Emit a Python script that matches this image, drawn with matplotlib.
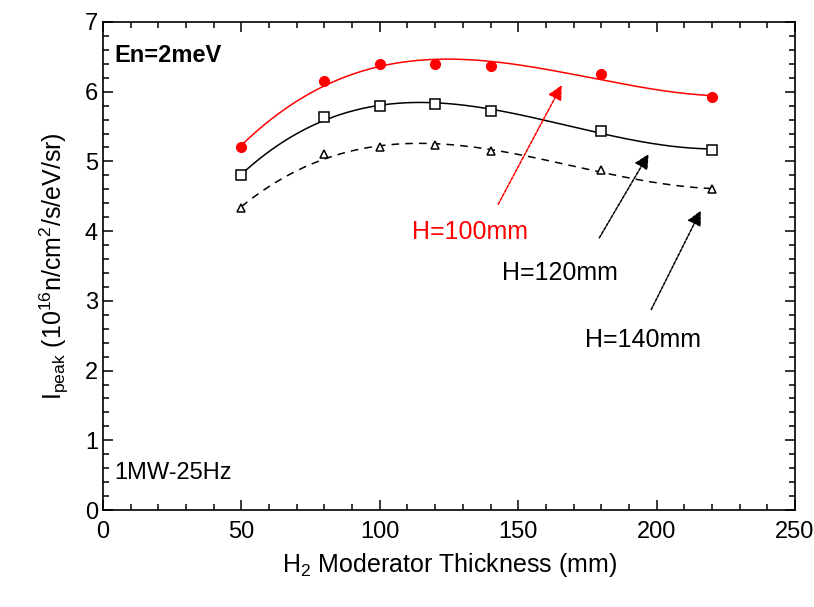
import numpy as np
import matplotlib
matplotlib.use("Agg")
import matplotlib.pyplot as plt

plt.rcParams['font.family'] = ['Liberation Sans', 'DejaVu Sans']
plt.rcParams['mathtext.fontset'] = 'custom'
plt.rcParams['mathtext.rm'] = 'Liberation Sans'

thickness = [50, 80, 100, 120, 140, 180, 220]
h100 = [5.20, 6.15, 6.40, 6.40, 6.37, 6.25, 5.92]
h120 = [4.80, 5.63, 5.80, 5.82, 5.73, 5.43, 5.17]
h140 = [4.33, 5.10, 5.20, 5.23, 5.15, 4.88, 4.60]
labels = ["H=100mm", "H=120mm", "H=140mm"]

fig = plt.figure(figsize=(8.14, 6.07), dpi=100)
ax = fig.add_axes([0.1265, 0.1598, 0.8502, 0.804])

xs = np.linspace(50, 220, 200)

def fit(y):
    c = np.polyfit(thickness, y, 3)
    return np.polyval(c, xs)

ax.plot(xs, fit(h100), color='red', lw=1.1)
ax.plot(thickness, h100, 'o', color='red', ms=7, mec='red')
ax.plot(xs, fit(h120), color='black', lw=1.1)
ax.plot(thickness, h120, 's', color='black', mfc='white', ms=7, mew=1.1)
ax.plot(xs, fit(h140), color='black', lw=1.1, ls=(0, (5, 4)))
ax.plot(thickness, h140, '^', color='black', mfc='white', ms=5.5, mew=1.1)

ax.set_xlim(0, 250)
ax.set_ylim(0, 7)
ax.set_xticks(np.arange(0, 251, 50))
ax.set_xticks(np.arange(0, 251, 10), minor=True)
ax.set_yticks(np.arange(0, 8, 1))
ax.set_yticks(np.arange(0, 7.01, 0.2), minor=True)
ax.tick_params(which='both', direction='in', top=True, right=True, labelsize=17, width=1.1)
ax.tick_params(which='major', length=7)
ax.tick_params(which='minor', length=4)
ax.tick_params(axis='x', pad=8)
for s in ax.spines.values():
    s.set_linewidth(1.2)

ax.set_xlabel(r'H$_{\mathregular{2}}$ Moderator Thickness (mm)', fontsize=18, labelpad=6)
ax.set_ylabel(r'I$_{\mathregular{peak}}$ (10$^{\mathregular{16}}$n/cm$^{\mathregular{2}}$/s/eV/sr)', fontsize=18, labelpad=10)

ax.text(4, 6.52, 'En=2meV', fontsize=17, fontweight='bold', va='center', ha='left')
ax.text(4, 0.53, '1MW-25Hz', fontsize=17, va='center', ha='left')

ax.annotate('', xy=(166.2, 6.13), xytext=(142.3, 4.35),
            arrowprops=dict(arrowstyle='-|>', color='red', lw=1.1, ls=(0, (2, 1)), mutation_scale=22))
ax.annotate('', xy=(197.6, 5.14), xytext=(178.8, 3.87),
            arrowprops=dict(arrowstyle='-|>', color='black', lw=1.1, ls=(0, (2, 1)), mutation_scale=22))
ax.annotate('', xy=(216.4, 4.33), xytext=(197.6, 2.84),
            arrowprops=dict(arrowstyle='-|>', color='black', lw=1.1, ls=(0, (2, 1)), mutation_scale=22))

ax.text(132.6, 3.99, labels[0], color='red', fontsize=18, ha='center', va='center')
ax.text(165.0, 3.40, labels[1], color='black', fontsize=18, ha='center', va='center')
ax.text(195.0, 2.44, labels[2], color='black', fontsize=18, ha='center', va='center')

fig.savefig('out.png', dpi=100)
